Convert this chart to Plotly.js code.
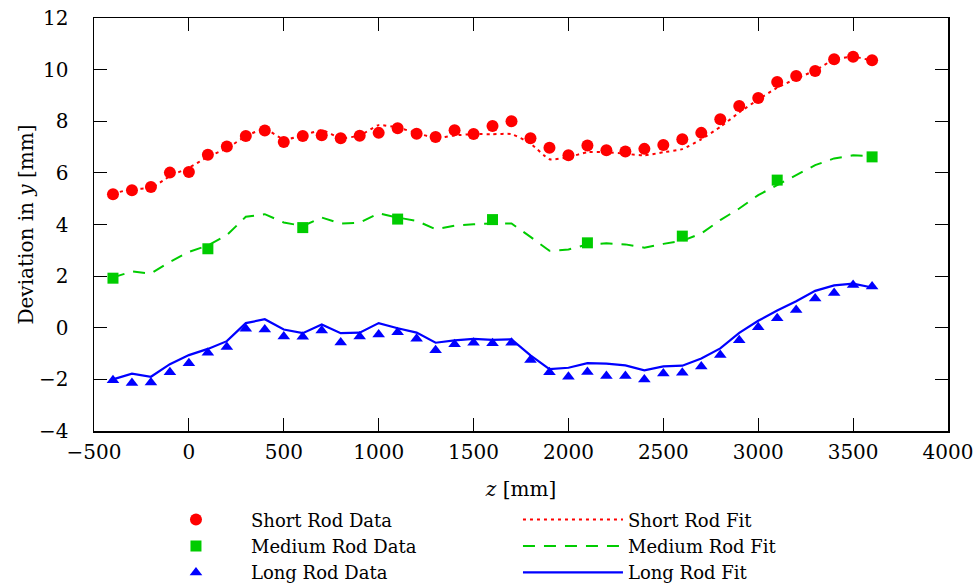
<!DOCTYPE html>
<html>
<head>
<meta charset="utf-8">
<script src="https://cdn.plot.ly/plotly-3.0.1.min.js"></script>
<style>html,body{margin:0;padding:0;background:#fff;}#chart{width:977px;height:583px;}</style>
</head>
<body>
<div id="chart"></div>
<script>
// z positions (mm)
const zAll = [-400,-300,-200,-100,0,100,200,300,400,500,600,700,800,900,1000,1100,1200,1300,1400,1500,1600,1700,1800,1900,2000,2100,2200,2300,2400,2500,2600,2700,2800,2900,3000,3100,3200,3300,3400,3500,3600];
const zMedium = [-400,100,600,1100,1600,2100,2600,3100,3600];

// Short rod
const shortData = [5.17,5.33,5.45,6.01,6.03,6.70,7.02,7.43,7.64,7.20,7.43,7.46,7.34,7.44,7.55,7.73,7.52,7.39,7.65,7.51,7.82,8.00,7.34,6.97,6.68,7.06,6.88,6.83,6.93,7.08,7.30,7.55,8.08,8.59,8.90,9.52,9.75,9.95,10.40,10.50,10.36];
const shortFit  = [5.20,5.37,5.42,5.87,6.20,6.62,6.95,7.42,7.70,7.30,7.45,7.65,7.35,7.45,7.85,7.75,7.55,7.35,7.45,7.50,7.50,7.50,7.14,6.53,6.61,6.80,6.80,6.74,6.68,6.80,6.92,7.30,7.78,8.34,8.84,9.30,9.65,9.97,10.39,10.50,10.35];

// Medium rod
const mediumData = [1.92,3.06,3.88,4.21,4.19,3.29,3.55,5.72,6.62];
const mediumFit  = [1.95,2.18,2.10,2.55,2.94,3.19,3.59,4.30,4.40,4.08,3.94,4.27,4.04,4.07,4.43,4.27,4.14,3.82,3.95,4.01,4.04,4.04,3.52,2.98,3.03,3.23,3.27,3.23,3.10,3.25,3.37,3.65,4.17,4.62,5.14,5.52,5.91,6.30,6.56,6.68,6.65];

// Long rod
const longData = [-2.03,-2.14,-2.12,-1.72,-1.38,-0.97,-0.75,-0.04,-0.07,-0.34,-0.35,-0.11,-0.57,-0.34,-0.26,-0.17,-0.43,-0.87,-0.64,-0.58,-0.60,-0.58,-1.25,-1.72,-1.90,-1.71,-1.87,-1.87,-2.00,-1.77,-1.74,-1.50,-1.06,-0.48,0.02,0.37,0.69,1.13,1.35,1.66,1.60];
const longFit  = [-2.00,-1.78,-1.90,-1.41,-1.06,-0.82,-0.52,0.18,0.33,-0.07,-0.21,0.13,-0.21,-0.19,0.18,-0.02,-0.19,-0.58,-0.49,-0.43,-0.47,-0.45,-1.07,-1.60,-1.55,-1.37,-1.39,-1.46,-1.65,-1.50,-1.47,-1.19,-0.80,-0.20,0.27,0.67,1.03,1.43,1.64,1.71,1.56];

const xTicks = [-500,0,500,1000,1500,2000,2500,3000,3500,4000];
const yTicks = [-4,-2,0,2,4,6,8,10,12];

const RED = '#ff0000', GREEN = '#00cc00', BLUE = '#0000ff';
const FONT = 'DejaVu Serif, serif';

const traces = [
  {x: zAll, y: shortData, mode: 'markers', name: 'Short Rod Data',
   marker: {symbol: 'circle', size: 12, color: RED}},
  {x: zAll, y: shortFit, mode: 'lines', name: 'Short Rod Fit',
   line: {color: RED, width: 2, dash: '3px,4px', shape: 'spline', smoothing: 0.5}},
  {x: zMedium, y: mediumData, mode: 'markers', name: 'Medium Rod Data',
   marker: {symbol: 'square', size: 11, color: GREEN}},
  {x: zAll, y: mediumFit, mode: 'lines', name: 'Medium Rod Fit',
   line: {color: GREEN, width: 2, dash: '12px,9px'}},
  {x: zAll, y: longData, mode: 'markers', name: 'Long Rod Data',
   marker: {symbol: 'triangle-up', size: 11, color: BLUE}},
  {x: zAll, y: longFit, mode: 'lines', name: 'Long Rod Fit',
   line: {color: BLUE, width: 2.2}}
];

const axisCommon = {
  showgrid: false, zeroline: false,
  showline: true, linecolor: '#000', linewidth: 1.5,
  mirror: 'ticks', ticks: 'inside', ticklen: 13, tickwidth: 1, tickcolor: '#000',
  tickfont: {family: FONT, size: 20, color: '#000'}
};

const layout = {
  width: 977, height: 583,
  paper_bgcolor: '#fff', plot_bgcolor: '#fff',
  margin: {l: 94, r: 29, t: 18, b: 152},
  font: {family: FONT, size: 20, color: '#000'},
  xaxis: Object.assign({}, axisCommon, {
    range: [-500, 4000], tickmode: 'array', tickvals: xTicks,
    ticktext: xTicks.map(v => v < 0 ? '\u2212' + Math.abs(v) : String(v)),
    ticklabelstandoff: 2,
    title: {text: '<i>z</i> [mm]', font: {family: FONT, size: 20, color: '#000'}, standoff: 26}
  }),
  yaxis: Object.assign({}, axisCommon, {
    range: [-4, 12], tickmode: 'array', tickvals: yTicks,
    ticktext: yTicks.map(v => v < 0 ? '\u2212' + Math.abs(v) : String(v)),
    ticklabelstandoff: 20,
    title: {text: 'Deviation in <i>y</i> [mm]', font: {family: FONT, size: 20, color: '#000'}, standoff: 0}
  }),
  showlegend: true,
  legend: {
    orientation: 'h', x: 0.055, xanchor: 'left', xref: 'paper',
    y: 0.140, yanchor: 'top', yref: 'container',
    font: {family: FONT, size: 18, color: '#000'},
    itemwidth: 100, entrywidth: 262, entrywidthmode: 'pixels',
    bgcolor: 'rgba(0,0,0,0)', tracegroupgap: 0, traceorder: 'normal'
  }
};

Plotly.newPlot('chart', traces, layout, {displayModeBar: false, staticPlot: true});
</script>
</body>
</html>
